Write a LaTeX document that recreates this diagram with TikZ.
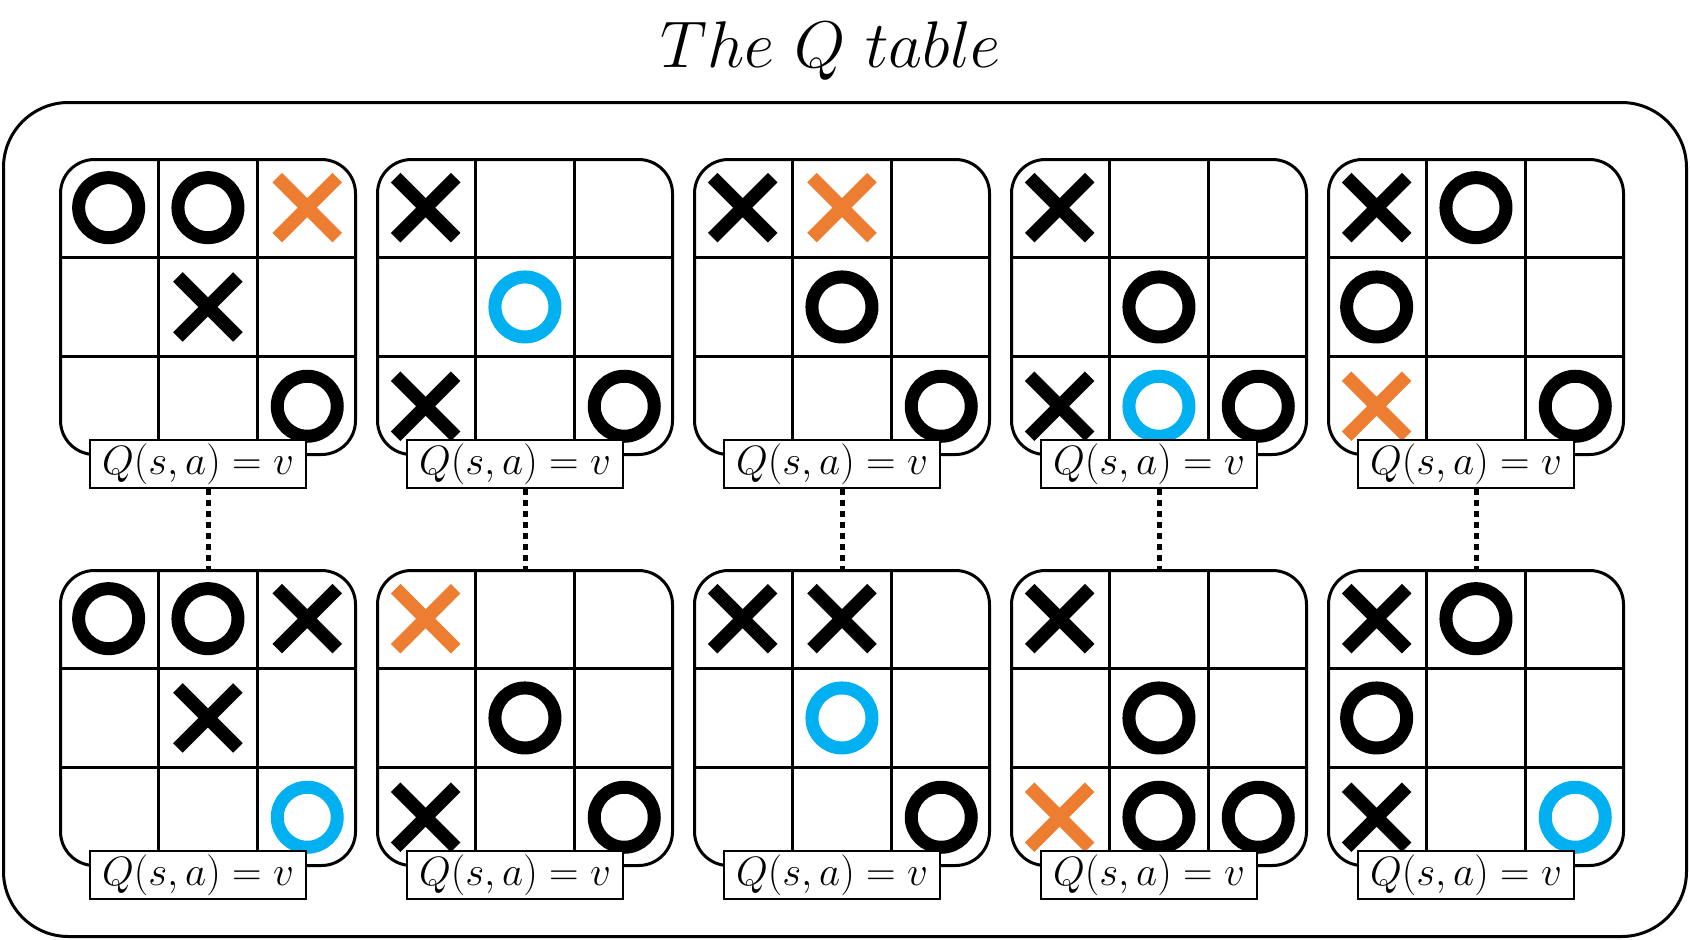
\documentclass[tikz,border=0pt]{standalone}
\usepackage{fix-cm}
\definecolor{qorange}{HTML}{ED7D31}
\definecolor{qblue}{HTML}{00B0F0}
\tikzset{
    board/.style={draw, line width=3pt, rounded corners=34pt, minimum width=295pt, minimum height=295pt, inner sep=0pt},
    gridline/.style={line width=3pt},
    omark/.style={line width=13pt},
    xmark/.style={line width=13.5pt},
    qlabel/.style={draw, fill=white, line width=2.5pt, minimum width=216pt, minimum height=48pt, inner sep=0pt, font=\fontsize{41}{44}\selectfont},
    link/.style={line width=5pt, dash pattern=on 6pt off 5pt},
}
% board name, top left corner, O cells, X cells (column/row/colour)
\newcommand{\tttboard}[4]{%
    \begin{scope}[shift={(#2)}]
        \node[board, anchor=north west] (#1) at (0,0) {};
        \draw[gridline] (99.3,0) -- (99.3,298) (198.6,0) -- (198.6,298)
            (0,99.3) -- (298,99.3) (0,198.6) -- (298,198.6);
        \foreach \c/\r/\col in {#3}
            \draw[omark,\col] ({49.65+99.3*\c},{49.65+99.3*\r}) circle (30pt);
        \foreach \c/\r/\col in {#4}
            \draw[xmark,\col] ({49.65+99.3*\c},{49.65+99.3*\r}) +(-30,-30) -- +(30,30) +(-30,30) -- +(30,-30);
        \node[qlabel] (q-#1) at (139,306) {$Q(s,a)=v$};
    \end{scope}
}
\begin{document}
\begin{tikzpicture}[x=1pt, y=-1pt]
        \useasboundingbox (0,0) rectangle (1690,940);
        \node[draw, line width=3pt, rounded corners=65pt, minimum width=1683pt, minimum height=834pt] (frame) at (845,519.5) {};
        \node[anchor=base, font=\fontsize{66}{72}\selectfont] (title) at (831,67) {$The\ Q\ table$};

        \tttboard{t1}{59,158}{0/0/black, 1/0/black, 2/2/black}{2/0/qorange, 1/1/black}
        \tttboard{t2}{376,158}{1/1/qblue, 2/2/black}{0/0/black, 0/2/black}
        \tttboard{t3}{693,158}{1/1/black, 2/2/black}{0/0/black, 1/0/qorange}
        \tttboard{t4}{1010,158}{1/1/black, 1/2/qblue, 2/2/black}{0/0/black, 0/2/black}
        \tttboard{t5}{1327,158}{1/0/black, 0/1/black, 2/2/black}{0/0/black, 0/2/qorange}

        \tttboard{b1}{59,569}{0/0/black, 1/0/black, 2/2/qblue}{2/0/black, 1/1/black}
        \tttboard{b2}{376,569}{1/1/black, 2/2/black}{0/0/qorange, 0/2/black}
        \tttboard{b3}{693,569}{1/1/qblue, 2/2/black}{0/0/black, 1/0/black}
        \tttboard{b4}{1010,569}{1/1/black, 1/2/black, 2/2/black}{0/0/black, 0/2/qorange}
        \tttboard{b5}{1327,569}{1/0/black, 0/1/black, 2/2/qblue}{0/0/black, 0/2/black}

        \foreach \i in {1,...,5}
            \draw[link] (q-t\i.south -| b\i.north) -- (b\i.north);
\end{tikzpicture}
\end{document}
